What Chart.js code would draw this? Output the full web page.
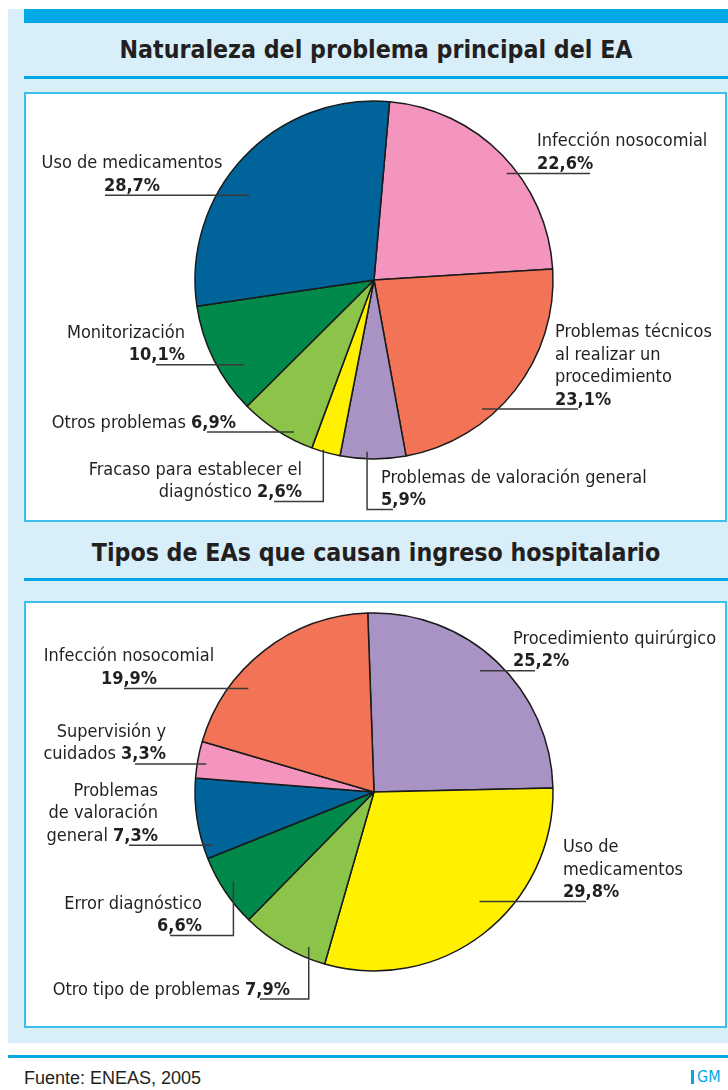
<!DOCTYPE html>
<html lang="es">
<head>
<meta charset="utf-8">
<title>Naturaleza del problema principal del EA</title>
<script src="https://cdn.jsdelivr.net/npm/chart.js@4.4.1/dist/chart.umd.min.js"></script>
<style>
    html, body { margin: 0; padding: 0; background: #fff; }
    #page { position: relative; width: 728px; height: 1090px; overflow: hidden;
            font-family: "DejaVu Sans Condensed", "Liberation Sans", sans-serif; color: #231f20; }
    #page > * { position: absolute; }
    .panel { left: 8px; top: 9px; width: 720px; height: 1034px; background: #d8eef9; }
    .topbar { left: 24px; top: 9px; width: 704px; height: 14px; background: #00a9e6; }
    .title { left: 24px; width: 704px; height: 30px; line-height: 30px; text-align: center;
             font-size: 24.7px; font-weight: bold; color: #231f20; }
    .rule { left: 24px; width: 704px; height: 3px; background: #00a9e6; }
    .box { left: 24px; width: 703px; box-sizing: border-box; background: #fff; border: 2px solid #3dbfee; }
    canvas { left: 0; }
    .footrule { left: 8px; top: 1055px; width: 720px; height: 3px; background: #00a9e6; }
    .source { left: 24px; top: 1067px; line-height: 22px; font-size: 18px; font-family: "Liberation Sans", sans-serif; }
    .gmbar { left: 691px; top: 1070px; width: 3px; height: 14px; background: #00a9e6; }
    .gm { left: 697px; top: 1066px; line-height: 22px; font-size: 16px; color: #00a9e6; }
</style>
</head>
<body>
<div id="page">
    <div class="panel"></div>
    <div class="topbar"></div>

    <div class="title" style="top:35px">Naturaleza del problema principal del EA</div>
    <div class="rule" style="top:76px"></div>
    <div class="box" style="top:92px;height:430px"></div>
    <canvas id="chart1" width="728" height="429" style="top:92px"></canvas>

    <div class="title" style="top:538px">Tipos de EAs que causan ingreso hospitalario</div>
    <div class="rule" style="top:578px"></div>
    <div class="box" style="top:601px;height:427px"></div>
    <canvas id="chart2" width="728" height="426" style="top:601px"></canvas>

    <div class="footrule"></div>
    <div class="source">Fuente: ENEAS, 2005</div>
    <div class="gmbar"></div>
    <div class="gm">GM</div>
</div>

<script>
// Slice colours
const COLORS = {
    darkBlue: '#00639a',
    pink: '#f495c0',
    salmon: '#f27355',
    lavender: '#a993c5',
    yellow: '#fff100',
    lightGreen: '#8cc449',
    darkGreen: '#00894a'
};

// Chart 1 - Naturaleza del problema principal del EA (clockwise from top)
const categories1 = [
    'Infección nosocomial',
    'Problemas técnicos\nal realizar un\nprocedimiento',
    'Problemas de valoración general',
    'Fracaso para establecer el\ndiagnóstico',
    'Otros problemas',
    'Monitorización',
    'Uso de medicamentos'
];
const values1 = [22.6, 23.1, 5.9, 2.6, 6.9, 10.1, 28.7];
const colors1 = [COLORS.pink, COLORS.salmon, COLORS.lavender, COLORS.yellow,
                 COLORS.lightGreen, COLORS.darkGreen, COLORS.darkBlue];

// Chart 2 - Tipos de EAs que causan ingreso hospitalario (clockwise from top)
const categories2 = [
    'Procedimiento quirúrgico',
    'Uso de\nmedicamentos',
    'Otro tipo de problemas',
    'Error diagnóstico',
    'Problemas\nde valoración\ngeneral',
    'Supervisión y\ncuidados',
    'Infección nosocomial'
];
const values2 = [25.2, 29.8, 7.9, 6.6, 7.3, 3.3, 19.9];
const colors2 = [COLORS.lavender, COLORS.yellow, COLORS.lightGreen, COLORS.darkGreen,
                 COLORS.darkBlue, COLORS.pink, COLORS.salmon];

// Label placement (page coords). type h = horizontal leader, v = down-then-across
// f = radial fraction of the leader start, da = angle tweak (deg) from slice middle
const layout1 = [
    { type: 'h', f: 0.95, da: 5.5, x: 537, align: 'left', end: 590 },
    { type: 'h', f: 0.94, da: 12, x: 555, align: 'left', end: 578 },
    { type: 'v', f: 0.96, da: 2, x: 381, align: 'left', y: 476, end: 393 },
    { type: 'v', f: 0.99, da: 1, x: 302, align: 'right', y: 468, end: 274, inline: true },
    { type: 'h', f: 0.96, da: -5, x: 236, align: 'right', end: 207, inline: true },
    { type: 'h', f: 0.87, da: -6.4, x: 185, align: 'right', end: 156 },
    { type: 'h', f: 0.84, da: -9, x: 132, align: 'center', end: 105 }
];
const layout2 = [
    { type: 'h', f: 0.90, da: -2.2, x: 513, align: 'left', end: 535 },
    { type: 'h', f: 0.85, da: -6.3, x: 563, align: 'left', end: 586 },
    { type: 'v', f: 0.94, da: -7.4, x: 290, align: 'right', y: 988, end: 260, inline: true },
    { type: 'v', f: 0.93, da: 1.3, x: 202, align: 'right', y: 902, end: 170 },
    { type: 'h', f: 0.95, da: -9.6, x: 158, align: 'right', end: 129, inline: true },
    { type: 'h', f: 0.95, da: -0.9, x: 166, align: 'right', end: 135, inline: true },
    { type: 'h', f: 0.91, da: -12.7, x: 129, align: 'center', end: 124 }
];

const FONT_FAMILY = '"DejaVu Sans Condensed", "Liberation Sans", sans-serif';
const FONT_SIZE = 18;
const LINE_HEIGHT = 22.5;

function formatPct(v) {
    return v.toFixed(1).replace('.', ',') + '%';
}

/**
 * Draw one label line made of plain / bold segments
 */
function drawSegments(ctx, segs, x, cy, align) {
    let width = 0;
    segs.forEach(s => {
        ctx.font = (s.bold ? 'bold ' : '') + FONT_SIZE + 'px ' + FONT_FAMILY;
        s.w = ctx.measureText(s.t).width;
        width += s.w;
    });
    let cx = align === 'left' ? x : align === 'right' ? x - width : x - width / 2;
    segs.forEach(s => {
        ctx.font = (s.bold ? 'bold ' : '') + FONT_SIZE + 'px ' + FONT_FAMILY;
        ctx.fillText(s.t, cx, cy + 6.5);
        cx += s.w;
    });
}

// Plugin: leader lines + slice labels
const sliceLabels = {
    id: 'sliceLabels',
    afterDatasetsDraw(chart, args, opts) {
        const ctx = chart.ctx;
        const meta = chart.getDatasetMeta(0);
        const data = chart.data.datasets[0].data;
        const names = chart.data.labels;
        ctx.save();
        ctx.fillStyle = '#231f20';
        ctx.strokeStyle = '#3a3a3a';
        ctx.lineWidth = 1.5;
        ctx.textAlign = 'left';
        ctx.textBaseline = 'alphabetic';

        opts.layout.forEach((lab, i) => {
            const arc = meta.data[i];
            const mid = (arc.startAngle + arc.endAngle) / 2 + lab.da * Math.PI / 180;
            const ax = arc.x + Math.cos(mid) * arc.outerRadius * lab.f;
            const ay = arc.y + Math.sin(mid) * arc.outerRadius * lab.f;

            const lines = names[i].split('\n').map(t => [{ t: t, bold: false }]);
            const pct = { t: formatPct(data[i]), bold: true };
            if (lab.inline) {
                lines[lines.length - 1][0].t += ' ';
                lines[lines.length - 1].push(pct);
            } else {
                lines.push([pct]);
            }

            let first, bottom;
            if (lab.type === 'h') {
                bottom = ay;
                first = ay - 11 - (lines.length - 1) * LINE_HEIGHT;
            } else {
                first = lab.y - opts.top;
                bottom = first + (lines.length - 1) * LINE_HEIGHT + 11;
            }

            ctx.beginPath();
            ctx.moveTo(ax, ay);
            if (lab.type === 'v') ctx.lineTo(ax, bottom);
            ctx.lineTo(lab.end, bottom);
            ctx.stroke();

            lines.forEach((segs, k) => {
                drawSegments(ctx, segs, lab.x, first + k * LINE_HEIGHT, lab.align);
            });
        });
        ctx.restore();
    }
};

function createPie(id, labels, values, colors, rotation, layout, top, padBottom) {
    return new Chart(document.getElementById(id), {
        type: 'pie',
        data: {
            labels: labels,
            datasets: [{
                data: values,
                backgroundColor: colors,
                borderColor: '#1a1a1a',
                borderWidth: 1.5
            }]
        },
        options: {
            responsive: false,
            animation: false,
            events: [],
            devicePixelRatio: 1,
            rotation: rotation,
            radius: 179,
            layout: { padding: { left: 20, right: 0, top: 0, bottom: padBottom } },
            plugins: {
                legend: { display: false },
                tooltip: { enabled: false },
                sliceLabels: { layout: layout, top: top }
            }
        },
        plugins: [sliceLabels]
    });
}

createPie('chart1', categories1, values1, colors1, 5, layout1, 92, 53);
createPie('chart2', categories2, values2, colors2, -2, layout2, 601, 44);
</script>
</body>
</html>
